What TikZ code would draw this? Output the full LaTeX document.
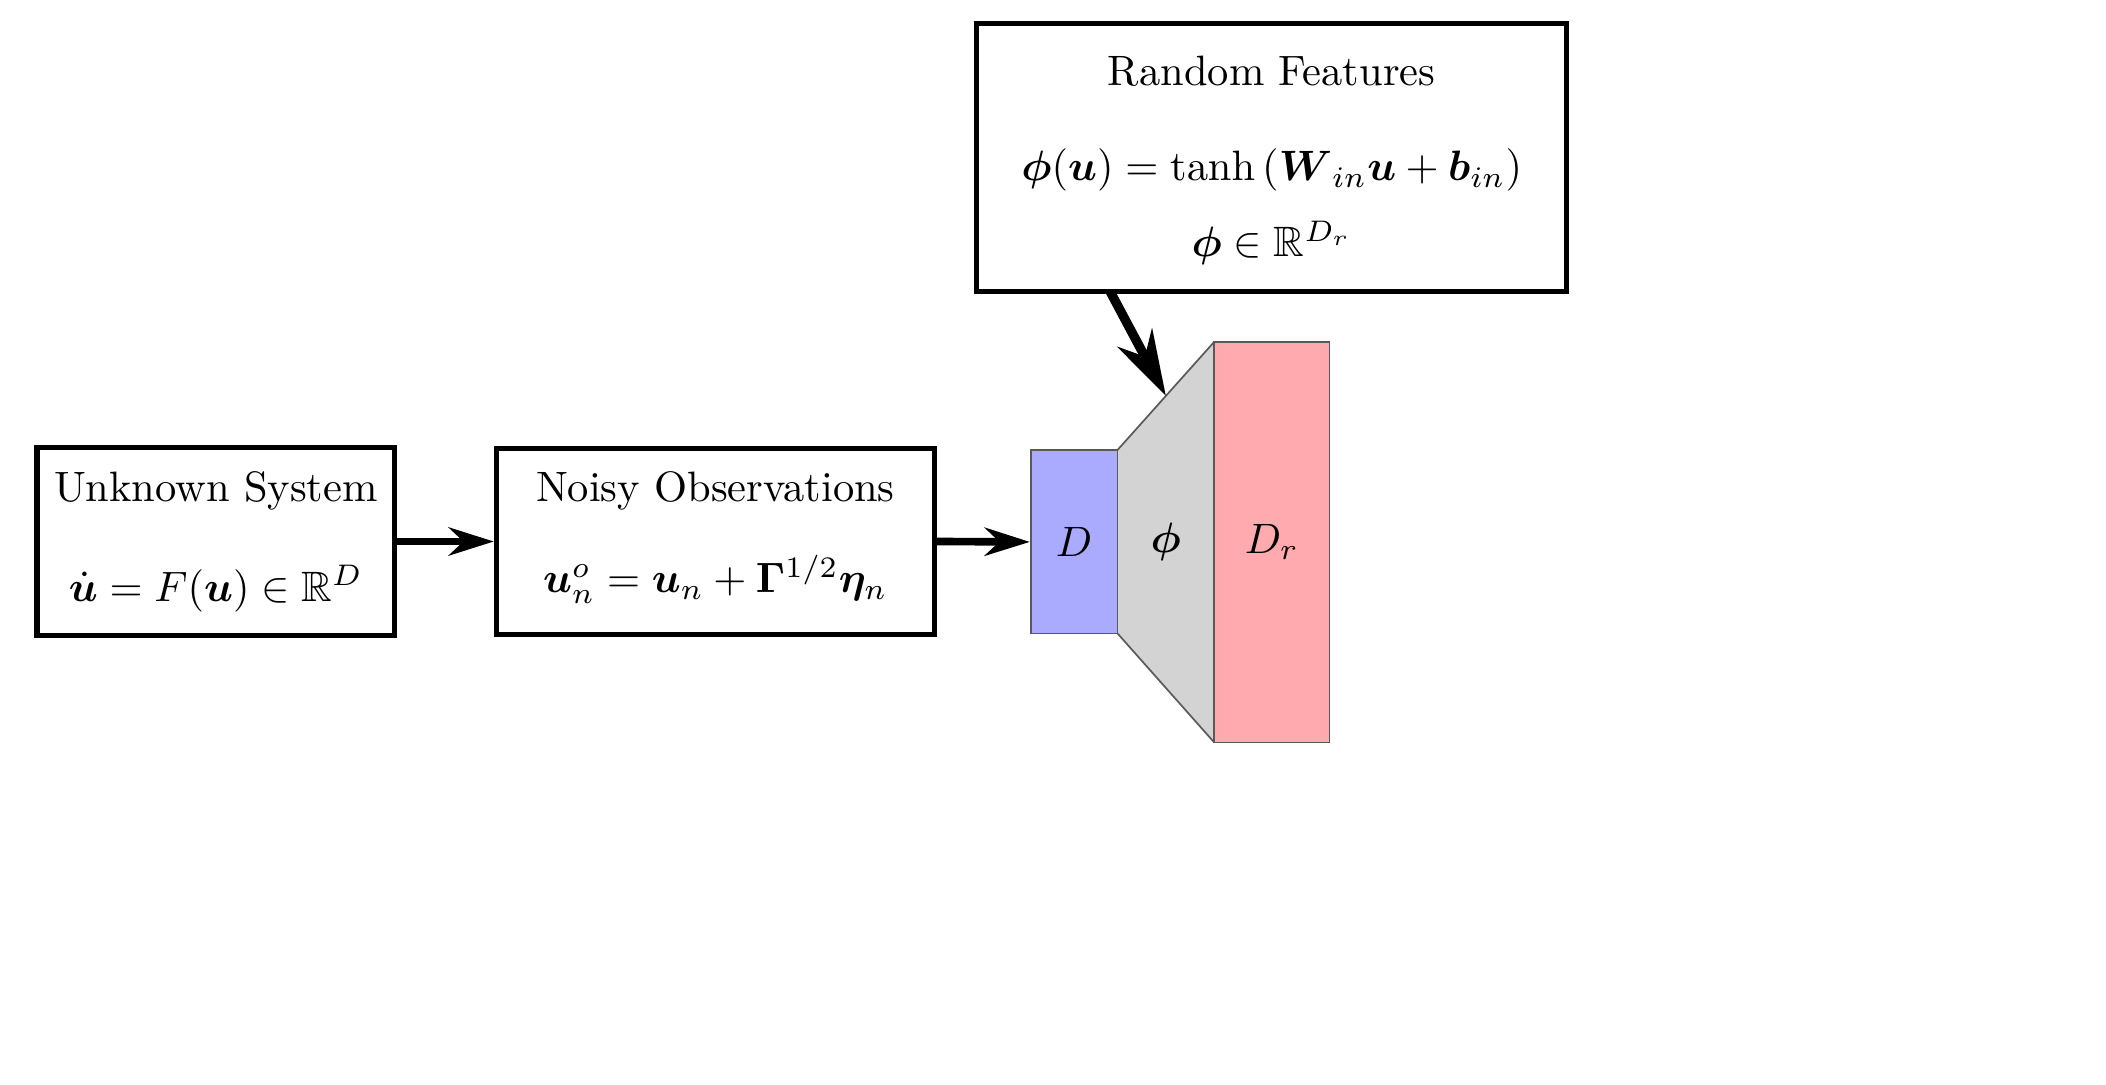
\documentclass[tikz,border=0pt]{standalone}
\usepackage{amsmath,amssymb,bm}
\usetikzlibrary{arrows.meta,calc}
\definecolor{layerblue}{HTML}{AAAAFF}
\definecolor{layerred}{HTML}{FFAAAE}
\definecolor{layergray}{HTML}{D3D3D3}
\tikzset{
  bigbox/.style={draw=black, line width=1.2pt, align=center, inner sep=0pt},
  layer/.style={draw=black!65, line width=0.4pt, inner sep=0pt},
  flowarrow/.style={-{Stealth[length=10.6pt,width=6.6pt]}, line width=1.8pt},
  featarrow/.style={-{Stealth[length=15.5pt,width=9.2pt]}, line width=2.2pt},
}
\begin{document}
\begin{tikzpicture}[x=1pt,y=-1pt]
\useasboundingbox (0,0) rectangle (495.5,255.1);
% boxes
\node[bigbox, minimum width=84.2pt, minimum height=44.2pt] (us) at (50.8,127.4)
  {Unknown System\\[11.5pt] $\dot{\bm u} = F(\bm u) \in \mathbb{R}^{D}$};
\node[bigbox, minimum width=103pt, minimum height=43.8pt] (no) at (168.3,127.4)
  {Noisy Observations\\[11.5pt] \raisebox{2pt}[\height][\depth]{$\bm u_n^o = \bm u_n + \mathbf{\Gamma}^{1/2}\bm\eta_n$}};
\node[bigbox, minimum width=138.8pt, minimum height=63pt] (rf) at (299.2,37.1)
  {Random Features\\[9.5pt] \raisebox{-1pt}[\height][\depth]{$\bm\phi(\bm u) = \tanh\left(\bm{W}{}_{in}\bm u + \bm b_{in}\right)$}\\[5.6pt] \raisebox{-1.3pt}[\height][\depth]{$\bm\phi \in \mathbb{R}^{D_r}$}};
% layers
\coordinate (t1) at (262.9,105.9);
\coordinate (t2) at (285.7,80.4);
\coordinate (t3) at (285.7,174.7);
\coordinate (t4) at (262.9,149.0);
\fill[layergray] (t1) -- (t2) -- (t3) -- (t4) -- cycle;
\draw[draw=black!65, line width=0.4pt] (t1) -- (t2) (t3) -- (t4);
\node (phi) at (274.3,127.5) {$\bm\phi$};
\node[layer, fill=layerblue, minimum width=20.4pt, minimum height=43.1pt] (lin) at (252.7,127.5) {$D$};
\node[layer, fill=layerred, minimum width=27.1pt, minimum height=94.3pt] (lout) at (299.25,127.55) {$D_r$};
\coordinate (phitop) at ($(t1)!0.5!(t2)$);
% arrows
\draw[flowarrow] (us.east) -- (no.west);
\draw[flowarrow] (no.east) -- (lin.west);
\coordinate (rfout) at (261.2,68.6);
\draw[featarrow] (rfout) -- (phitop);
\end{tikzpicture}
\end{document}
